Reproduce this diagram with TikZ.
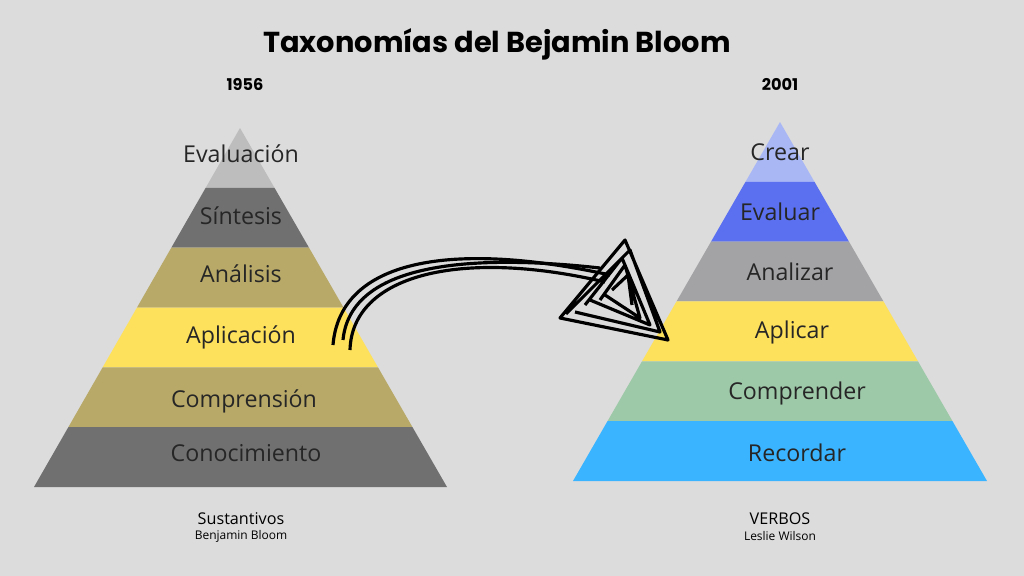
\documentclass[tikz,border=0pt]{standalone}
\usepackage{fontspec}
\setmainfont{Open Sans}
\newfontfamily\titlefont{Poppins}
\usetikzlibrary{calc}
\definecolor{bg}{HTML}{DCDCDC}
\definecolor{lgray}{HTML}{BDBDBD}
\definecolor{dgray}{HTML}{707070}
\definecolor{khaki}{HTML}{B8A968}
\definecolor{yel}{HTML}{FDE05B}
\definecolor{lblue}{HTML}{A9B8F5}
\definecolor{mblue}{HTML}{5B70F0}
\definecolor{mgray}{HTML}{A3A3A6}
\definecolor{sage}{HTML}{9EC9A8}
\definecolor{sky}{HTML}{3AB4FF}
\begin{document}
\begin{tikzpicture}[x=0.01cm,y=-0.01cm]
  \tikzset{band/.style = {font=\fontsize{6.6}{7}\selectfont, text=black!85}}
  \tikzset{year/.style = {font=\titlefont\bfseries\fontsize{4.6}{5}\selectfont}}
  \tikzset{sub/.style = {font=\fontsize{4.6}{5}\selectfont}}
  \tikzset{subsub/.style = {font=\fontsize{3.4}{4}\selectfont}}
  \tikzset{scrib/.style = {line width=0.9pt, black}}

  \fill[bg] (0,0) rectangle (1024,576);
  \useasboundingbox (0,0) rectangle (1024,576);

  % corners
  \coordinate (La) at (240,128); \coordinate (Lbl) at (34,487); \coordinate (Lbr) at (447,487);
  \coordinate (Ra) at (780,122); \coordinate (Rbl) at (573,481); \coordinate (Rbr) at (987,481);

  % left pyramid
  \foreach \c [count=\i from 0] in {lgray,dgray,khaki,yel,khaki,dgray}
  {
    \pgfmathsetmacro\ta{\i/6}
    \pgfmathsetmacro\tb{(\i+1)/6}
    \fill[\c] ($(La)!\ta!(Lbl)$) -- ($(La)!\tb!(Lbl)$) -- ($(La)!\tb!(Lbr)$) -- ($(La)!\ta!(Lbr)$) -- cycle;
  }
  % right pyramid
  \foreach \c [count=\i from 0] in {lblue,mblue,mgray,yel,sage,sky}
  {
    \pgfmathsetmacro\ta{\i/6}
    \pgfmathsetmacro\tb{(\i+1)/6}
    \fill[\c] ($(Ra)!\ta!(Rbl)$) -- ($(Ra)!\tb!(Rbl)$) -- ($(Ra)!\tb!(Rbr)$) -- ($(Ra)!\ta!(Rbr)$) -- cycle;
  }

  % labels
  \node[band] (eval) at (241,154) {Evaluación};
  \node[band] (sint) at (241,216) {Síntesis};
  \node[band] (anal) at (241,274) {Análisis};
  \node[band] (apli) at (241,337) {Aplicación};
  \node[band] (comp) at (244,401) {Comprensión};
  \node[band] (cono) at (246,453) {Conocimiento};

  \node[band] (crear) at (780,152) {Crear};
  \node[band] (evalr) at (780,212) {Evaluar};
  \node[band] (analr) at (790,272) {Analizar};
  \node[band] (aplir) at (792,332) {Aplicar};
  \node[band] (compr) at (797,393) {Comprender};
  \node[band] (recor) at (797,453) {Recordar};

  % titles
  \node[font=\titlefont\bfseries\fontsize{8.2}{9}\selectfont] (title) at (497,44) {Taxonomías del Bejamin Bloom};
  \node[year] (y1) at (245,84) {1956};
  \node[year] (y2) at (780,84) {2001};
  \node[sub] (s1) at (241,519) {Sustantivos};
  \node[subsub] (b1) at (241,536) {Benjamin Bloom};
  \node[sub] (s2) at (780,519) {VERBOS};
  \node[subsub] (b2) at (780,536) {Leslie Wilson};

  % arrow
  \draw[scrib] (333,345) .. controls (340,260) and (450,240) .. (610,275);
  \draw[scrib] (350,350) .. controls (352,275) and (460,248) .. (605,282);
  \draw[scrib] (343,340) .. controls (350,268) and (455,252) .. (600,268);
  \draw[scrib, line join=round] (560,318) -- (625,240) -- (668,340) -- cycle
    (566,314) -- (630,250) -- (660,332) -- (575,312)
    (585,305) -- (622,258) -- (650,325) -- (590,300)
    (600,300) -- (625,265) -- (640,318) -- (605,295)
    (612,290) -- (628,275) -- (632,305);
\end{tikzpicture}
\end{document}
